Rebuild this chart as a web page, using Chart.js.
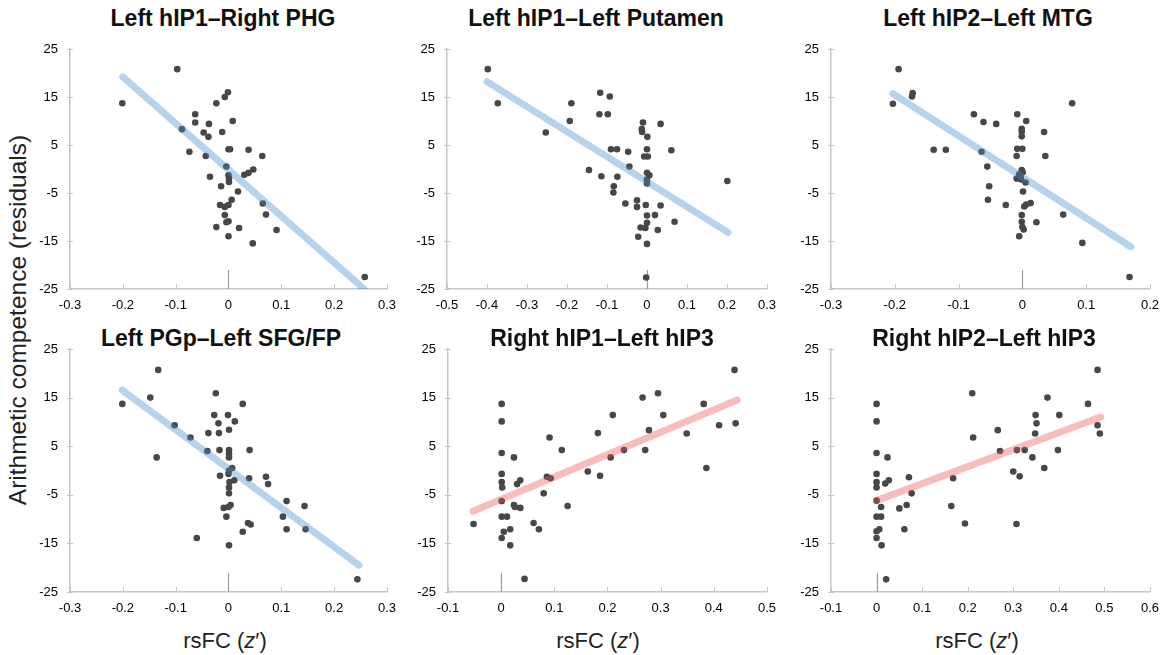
<!DOCTYPE html>
<html>
<head>
<meta charset="utf-8">
<script src="https://cdn.jsdelivr.net/npm/chart.js@4.4.1/dist/chart.umd.min.js"></script>
<style>
  body { margin: 0; background: #fff; width: 1168px; height: 655px; overflow: hidden; position: relative;
         font-family: "Liberation Sans", Arial, sans-serif; color: #111; }
  canvas { position: absolute; }
  .ptitle { position: absolute; transform: translate(-50%, -50%); font-size: 23px; font-weight: bold;
            line-height: 1; white-space: nowrap; }
  .xtitle { position: absolute; top: 641px; transform: translate(-50%, -50%); font-size: 22px;
            line-height: 1; white-space: nowrap; color: #222; }
  .ytitle { position: absolute; left: 18px; top: 320px; transform: translate(-50%, -50%) rotate(-90deg);
            font-size: 24.5px; line-height: 1; white-space: nowrap; color: #222; }
</style>
</head>
<body>
<div class="ytitle">Arithmetic competence (residuals)</div>
<div class="xtitle" style="left:225px">rsFC (<i>z</i>′)</div>
<div class="xtitle" style="left:598px">rsFC (<i>z</i>′)</div>
<div class="xtitle" style="left:977px">rsFC (<i>z</i>′)</div>

<script>
// panel titles
const titles = [
  'Left hIP1–Right PHG', 'Left hIP1–Left Putamen', 'Left hIP2–Left MTG',
  'Left PGp–Left SFG/FP', 'Right hIP1–Left hIP3', 'Right hIP2–Left hIP3'
];

// tick labels
const yTicks = [-25, -15, -5, 5, 15, 25];
const xTicks1 = [-0.3, -0.2, -0.1, 0, 0.1, 0.2, 0.3];
const xTicks2 = [-0.5, -0.4, -0.3, -0.2, -0.1, 0, 0.1, 0.2, 0.3];
const xTicks3 = [-0.3, -0.2, -0.1, 0, 0.1, 0.2];
const xTicks4 = [-0.3, -0.2, -0.1, 0, 0.1, 0.2, 0.3];
const xTicks5 = [-0.1, 0, 0.1, 0.2, 0.3, 0.4, 0.5];
const xTicks6 = [-0.1, 0, 0.1, 0.2, 0.3, 0.4, 0.5, 0.6];

// Left hIP1 - Right PHG
const p1x = [-0.097,-0.201,-0.001,-0.007,-0.023,-0.063,-0.063,-0.037,0.008,-0.088,-0.047,-0.038,-0.012,-0.074,-0.043,0,0.003,0.038,0.064,-0.004,0,0.001,0.001,-0.035,0.030,0.038,0.047,-0.014,0.018,0.065,-0.016,-0.007,0,0.006,-0.007,0.071,-0.004,0,-0.023,0.020,0.091,0,0.046,0.258];
const p1y = [20.8,13.7,16.0,15.0,13.7,11.4,9.7,9.4,10.0,8.3,7.6,6.7,7.7,3.6,2.7,4.1,4.1,4.0,2.7,0.5,-1.3,-2.0,-2.7,-1.6,-1.2,-0.8,-0.1,-3.6,-4.7,-7.2,-7.5,-7.9,-7.5,-6.4,-9.6,-9.5,-11.1,-10.9,-12.1,-12.3,-12.7,-14.0,-15.5,-22.5];
const fit1x = [-0.2, 0.256];
const fit1y = [19.2, -24.9];

// Left hIP1 - Left Putamen
const p2x = [-0.398,-0.373,-0.117,-0.093,-0.189,-0.119,-0.098,-0.193,-0.010,0.034,-0.013,-0.012,-0.253,0.001,-0.090,-0.075,0,0.061,-0.047,-0.007,0.002,-0.044,-0.145,-0.114,-0.074,0,0.006,0,0,0.201,-0.083,-0.084,-0.025,-0.025,-0.054,-0.003,0.034,0,0.020,0.069,0,-0.016,-0.004,0.027,-0.022,0,-0.002];
const p2y = [20.8,13.7,15.9,15.1,13.7,11.4,11.4,10.0,9.7,9.4,8.3,7.7,7.6,6.7,4.1,4.1,4.1,3.9,3.6,2.6,2.6,0.5,-0.2,-1.5,-1.6,-0.8,-1.3,-2.2,-3.0,-2.5,-3.6,-4.9,-6.5,-7.9,-7.2,-7.5,-7.6,-9.7,-9.6,-11.0,-11.2,-12.2,-12.3,-12.7,-14.1,-15.6,-22.6];
const fit2x = [-0.4, 0.2025];
const fit2y = [18.2, -13.2];

// Left hIP2 - Left MTG
const p3x = [-0.194,-0.203,-0.172,-0.173,0.078,-0.076,-0.008,-0.061,-0.041,0.006,-0.001,-0.001,-0.001,0.034,-0.139,-0.120,-0.064,-0.008,0,-0.009,0.036,-0.055,-0.001,0.0005,-0.005,-0.003,-0.009,-0.002,0.005,-0.052,0.001,-0.054,-0.026,0.003,0.006,0.013,-0.001,0.064,-0.001,0,0.002,0.022,-0.005,0.094,0.168];
const p3y = [20.8,13.6,15.8,15.1,13.7,11.4,11.4,9.8,9.4,10.0,8.4,7.8,6.8,7.7,4.0,4.0,3.6,4.2,4.2,2.7,2.7,0.5,-0.2,-0.7,-1.1,-1.5,-2.0,-2.2,-2.8,-3.6,-4.7,-6.4,-7.5,-7.8,-7.4,-7.1,-9.6,-9.5,-11.0,-12.1,-12.6,-11.1,-14.0,-15.4,-22.5];
const fit3x = [-0.203, 0.170];
const fit3y = [15.7, -16.2];

// Left PGp - Left SFG/FP
const p4x = [-0.133,-0.201,-0.148,-0.024,0.027,-0.027,-0.001,-0.019,0.012,-0.102,0.001,-0.038,-0.018,-0.072,-0.136,-0.040,-0.017,0.001,0.001,0.001,0.040,0.007,0.001,0,-0.016,0.039,0.071,0.075,0.011,0.002,0.001,0.001,0.110,0.144,0.004,0,-0.009,-0.004,0.103,0.037,0.042,0.110,0.146,0.027,-0.060,0.001,0.244];
const p4y = [20.7,13.7,15.0,15.9,13.7,11.4,11.4,9.7,10.1,9.3,8.4,7.7,7.7,6.8,2.7,4.0,4.2,4.2,3.5,2.7,4.2,0.5,0,-0.7,-1.1,-1.6,-1.3,-2.8,-2.0,-2.4,-3.5,-4.7,-6.3,-7.3,-7.1,-7.5,-7.7,-9.5,-9.5,-10.8,-11.1,-12.1,-12.1,-12.6,-13.9,-15.4,-22.4];
const fit4x = [-0.201, 0.247];
const fit4y = [16.5, -19.5];

// Right hIP1 - Left hIP3
const p5x = [0.439,0.295,0.266,0.381,0.001,0.210,0.305,0.001,0.410,0.441,0.278,0.182,0.349,0.091,0.114,0.231,0.271,0.001,0.024,0.206,0.386,0.163,0.186,0.001,0.086,0.093,0.001,0.036,0.030,0.002,0.080,0.001,0.024,0.026,0.036,0.125,0.001,0.011,-0.052,0.061,0.071,0.017,0.005,0.001,0.017,0.044];
const p5y = [20.7,15.9,15.0,13.7,13.7,11.4,11.4,10.1,9.3,9.7,8.3,7.7,7.6,6.8,4.2,4.2,4.2,3.6,2.7,2.7,0.5,-0.2,-1.1,-0.7,-1.3,-1.6,-2.4,-2.0,-2.8,-3.5,-4.7,-6.3,-7.1,-7.5,-7.7,-7.3,-9.5,-9.5,-11.0,-10.8,-12.1,-12.1,-12.6,-13.9,-15.4,-22.3];
const fit5x = [-0.053, 0.444];
const fit5y = [-8.4, 14.5];

// Right hIP2 - Left hIP3
const p6x = [0.485,0.210,0.375,0.464,0,0.349,0.401,0,0.351,0.485,0.266,0.348,0.490,0.212,0.271,0.308,0.325,0.398,0,0.024,0.342,0.368,0.300,0.314,0,0.071,0.168,0.027,0.019,0,0,0.077,0,0.010,0.066,0.050,0.164,0,0.010,0.194,0.307,0.061,0.006,0,0,0.011,0.021];
const p6y = [20.7,15.9,15.0,13.7,13.7,11.4,11.4,10.1,9.7,9.3,8.3,7.6,7.6,6.8,4.0,4.2,4.2,4.2,3.6,2.7,2.7,0.5,-0.2,-1.2,-0.7,-1.4,-1.6,-2.0,-2.7,-2.4,-3.5,-4.7,-6.2,-7.5,-7.1,-7.8,-7.3,-9.5,-9.5,-10.9,-11.0,-12.1,-12.1,-12.5,-13.9,-15.4,-22.4];
const fit6x = [0, 0.492];
const fit6y = [-6.2, 11.0];

// styles
const dotColor = '#474747';
const blueFit = 'rgba(60, 140, 210, 0.38)';
const redFit = 'rgba(240, 80, 80, 0.38)';
const axisGray = '#c6c6c6';
Chart.defaults.font.family = "'Liberation Sans', Arial, sans-serif";

// plot area boxes: left, top, width, height ; title centre x, title centre y
const boxes = [
  [70, 49, 322, 240, 223, 18],
  [447, 49, 325, 240, 596, 18],
  [831, 49, 324, 240, 988, 18],
  [70, 349, 322, 243, 221, 338],
  [448, 349, 324, 243, 602, 338],
  [831, 349, 324, 243, 984, 338]
];

const panels = [
  [p1x, p1y, fit1x, fit1y, xTicks1, blueFit],
  [p2x, p2y, fit2x, fit2y, xTicks2, blueFit],
  [p3x, p3y, fit3x, fit3y, xTicks3, blueFit],
  [p4x, p4y, fit4x, fit4y, xTicks4, blueFit],
  [p5x, p5y, fit5x, fit5y, xTicks5, redFit],
  [p6x, p6y, fit6x, fit6y, xTicks6, redFit]
];

// inward tick marks + the short zero line on the x axis
const axisMarks = {
  id: 'axisMarks',
  beforeDatasetsDraw(chart) {
    const { ctx, chartArea: a, scales: { x, y } } = chart;
    ctx.save();
    ctx.strokeStyle = axisGray;
    ctx.lineWidth = 1;
    ctx.beginPath();
    x.ticks.forEach(t => {
      const px = Math.round(x.getPixelForValue(t.value)) + 0.5;
      ctx.moveTo(px, a.bottom);
      ctx.lineTo(px, a.bottom - 5);
    });
    y.ticks.forEach(t => {
      const py = Math.round(y.getPixelForValue(t.value)) + 0.5;
      ctx.moveTo(a.left - 3, py);
      ctx.lineTo(a.left + 3, py);
    });
    ctx.stroke();
    const zx = Math.round(x.getPixelForValue(0)) + 0.5;
    ctx.strokeStyle = '#9c9c9c';
    ctx.lineWidth = 1.2;
    ctx.beginPath();
    ctx.moveTo(zx, a.bottom);
    ctx.lineTo(zx, a.bottom - 19);
    ctx.stroke();
    ctx.restore();
  }
};

panels.forEach((p, i) => {
  const [xs, ys, fx, fy, ticks, fitColor] = p;
  const [aL, aT, aW, aH, tx, ty] = boxes[i];
  const rowTop = aT < 300 ? 0 : 319;
  const padTop = aT - rowTop;

  const t = document.createElement('div');
  t.className = 'ptitle';
  t.style.left = tx + 'px';
  t.style.top = ty + 'px';
  t.textContent = titles[i];
  document.body.appendChild(t);

  const cv = document.createElement('canvas');
  cv.width = 50 + aW + 13;
  cv.height = padTop + aH + 30;
  cv.style.left = (aL - 50) + 'px';
  cv.style.top = rowTop + 'px';
  document.body.appendChild(cv);

  new Chart(cv, {
    type: 'scatter',
    data: {
      datasets: [
        {
          data: fx.map((v, k) => ({ x: v, y: fy[k] })),
          showLine: true,
          borderColor: fitColor,
          borderWidth: 7,
          borderCapStyle: 'round',
          pointRadius: 0,
          order: 0
        },
        {
          data: xs.map((v, k) => ({ x: v, y: ys[k] })),
          backgroundColor: dotColor,
          borderWidth: 0,
          pointRadius: 3.3,
          order: 1
        }
      ]
    },
    options: {
      responsive: false,
      animation: false,
      devicePixelRatio: 1,
      layout: { padding: { top: padTop, right: 13, left: 0, bottom: 0 } },
      plugins: { legend: { display: false }, tooltip: { enabled: false }, title: { display: false } },
      scales: {
        x: {
          type: 'linear',
          min: ticks[0],
          max: ticks[ticks.length - 1],
          grid: { display: false, drawTicks: false },
          border: { color: axisGray, width: 1.5 },
          ticks: { padding: 9, color: '#000', font: { size: 13 }, autoSkip: false, maxRotation: 0,
                   callback: v => String(v) },
          afterBuildTicks: s => { s.ticks = ticks.map(v => ({ value: v })); },
          afterFit: s => { s.height = 30; }
        },
        y: {
          min: -25,
          max: 25,
          grid: { display: false, drawTicks: false },
          border: { color: axisGray, width: 1.5 },
          ticks: { padding: 12, color: '#000', font: { size: 13 }, autoSkip: false,
                   callback: v => String(v) },
          afterBuildTicks: s => { s.ticks = yTicks.map(v => ({ value: v })); },
          afterFit: s => { s.width = 50; }
        }
      }
    },
    plugins: [axisMarks]
  });
});
</script>
</body>
</html>
